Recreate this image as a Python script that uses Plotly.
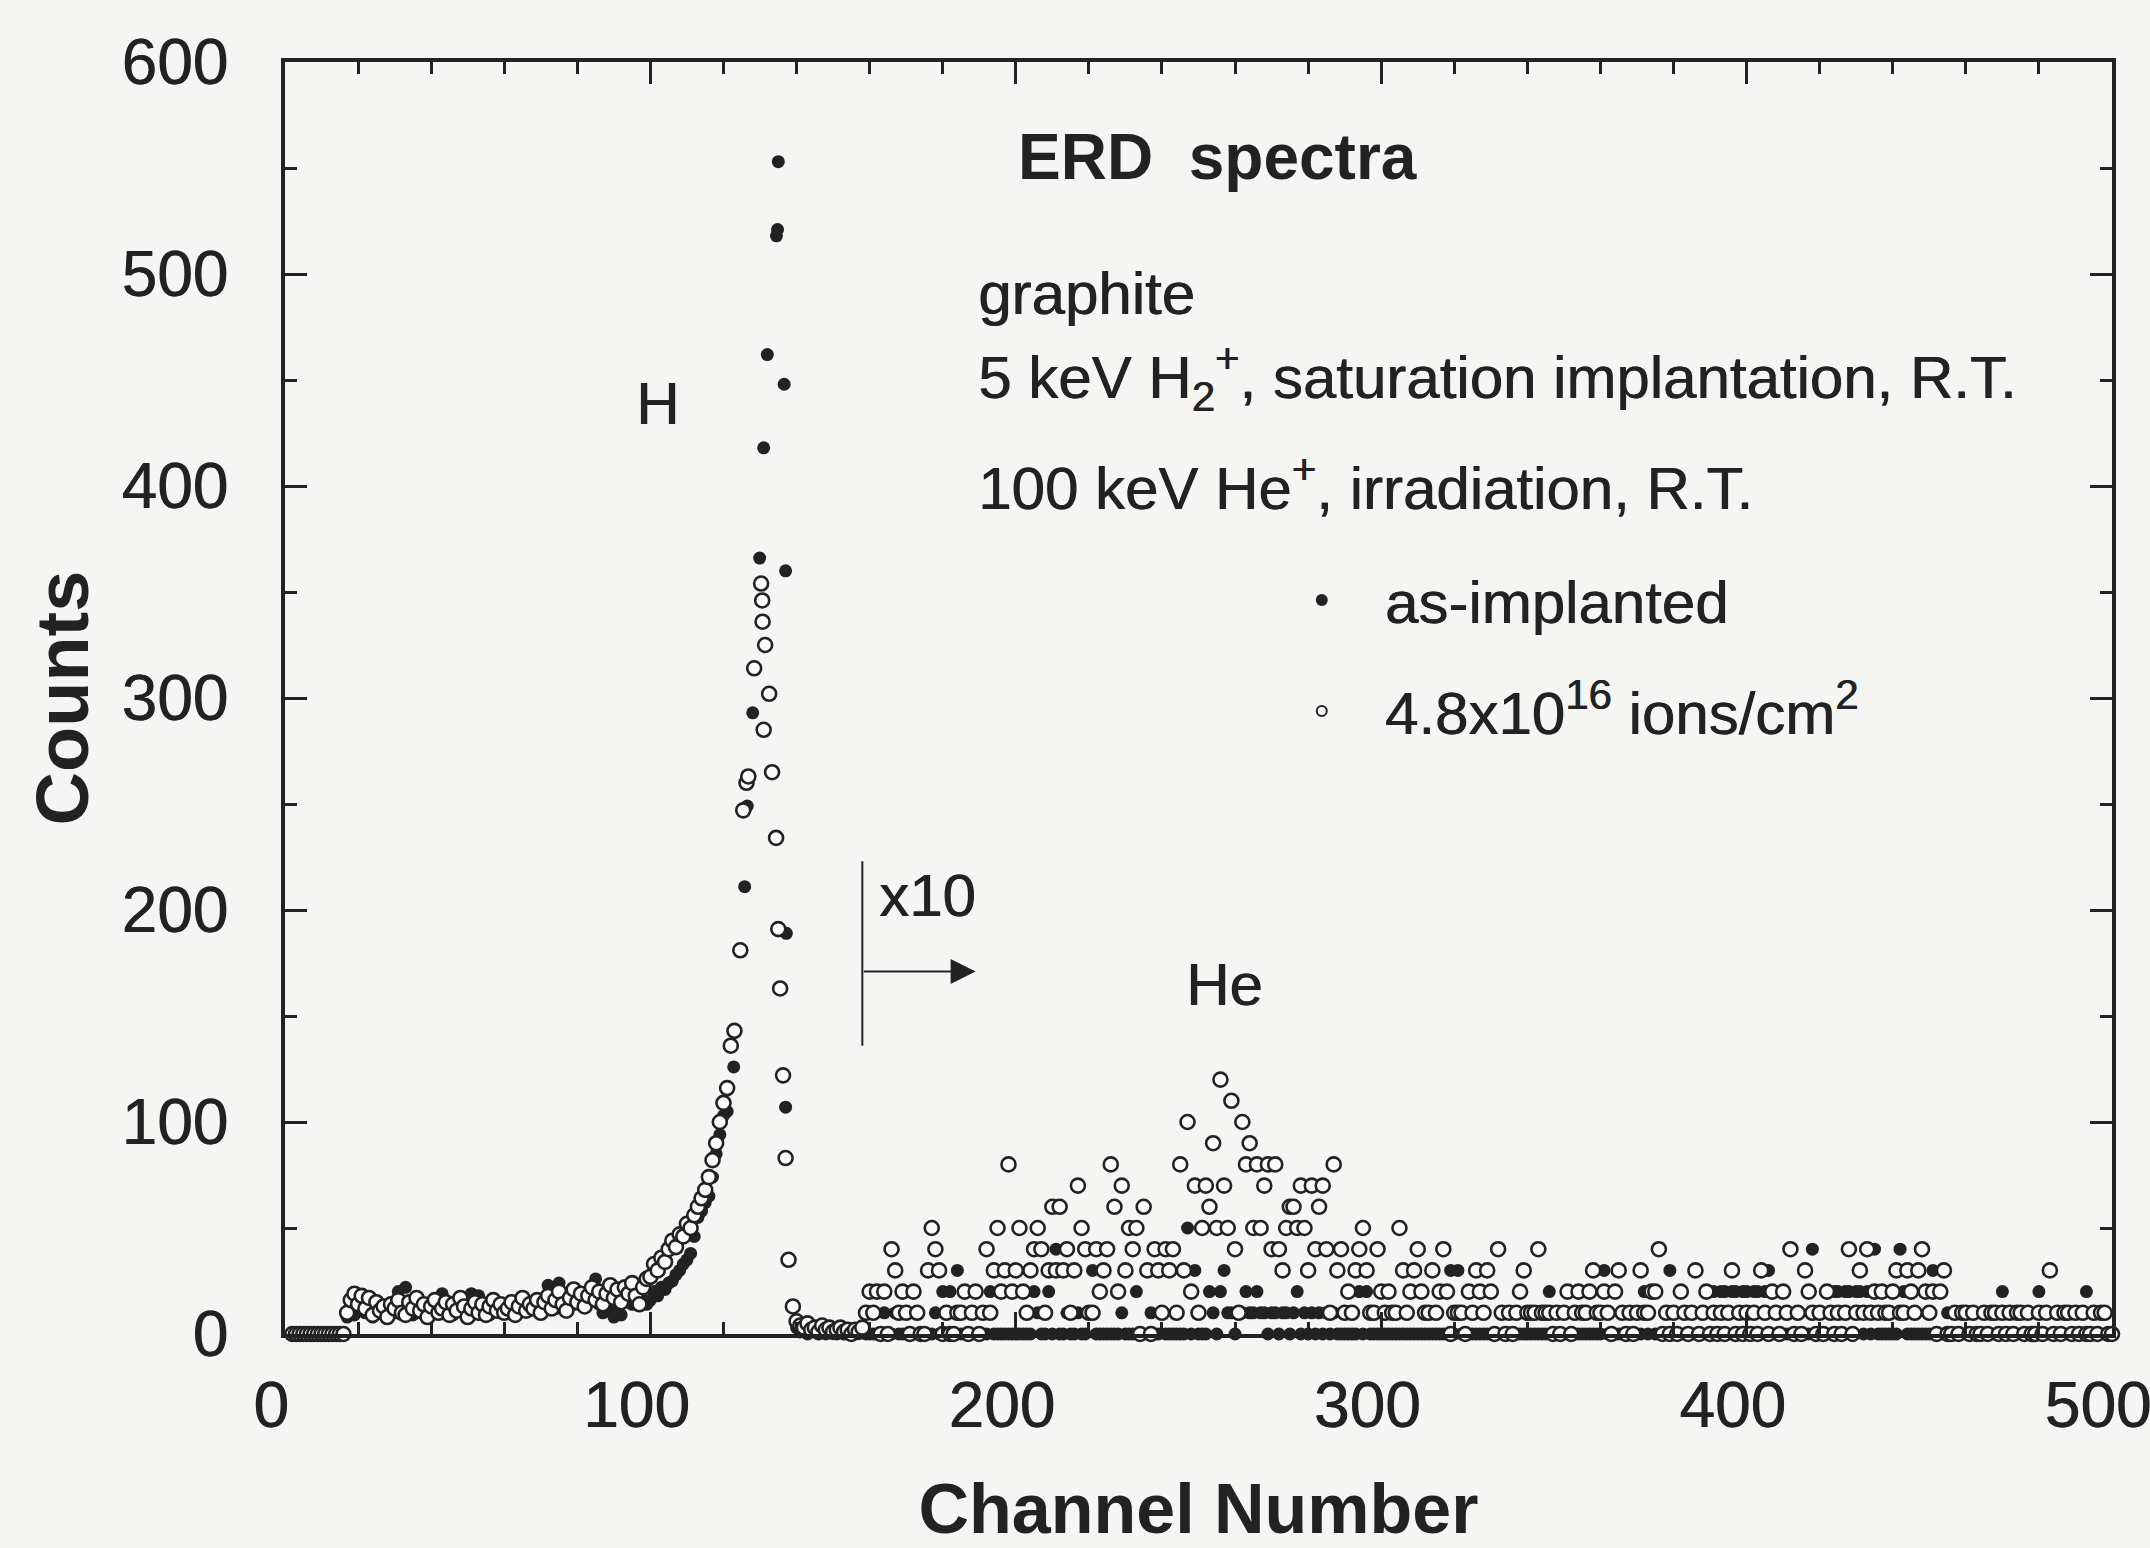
import plotly.graph_objects as go

# ---------------- data ----------------
# H region, 4.8x10^16 ions/cm^2 (open circles)
open_base_ch = list(range(2, 122))
open_base_counts = [
    0, 0, 0, 0, 0, 0, 0, 0, 0, 0, 0, 0, 0, 0, 0,                      # 2-16
    10, 16, 19, 14, 18, 12, 17, 9, 15, 11, 13, 8, 14, 12, 16, 10, 9,   # 17-33
    15, 12, 17, 11, 14, 8, 13, 16, 10, 12, 15, 9, 14, 11, 17, 13, 8,   # 34-50
    12, 15, 10, 14, 9, 13, 16, 11, 14, 10, 12, 15, 9, 13, 17, 11, 14,  # 51-67
    12, 16, 10, 15, 18, 12, 16, 20, 14, 11, 17, 21, 15, 19, 13, 18,    # 68-83
    22, 16, 20, 14, 19, 23, 17, 21, 15, 22, 19, 24, 18, 14, 22, 26,    # 84-99
    27, 33, 30, 36, 34, 40, 44, 41, 47, 46, 52, 50, 56, 60, 64, 68,    # 100-115
    74, 82, 90, 100, 109, 116,                                         # 116-121
]
open_peak_ch = [122.0, 123.0, 124.6, 125.4, 126.3, 126.8, 128.4, 130.3, 130.6, 130.7, 131.4,
                131.0, 132.5, 133.3, 134.4, 135.0, 135.5, 136.3, 137.0, 137.8, 139.0]
open_peak_counts = [136, 143, 181, 247, 260, 263, 314, 354, 346, 336, 325,
                    285, 302, 265, 234, 191, 163, 122, 83, 35, 13]
open_tail_ch = list(range(140, 159))
open_tail_counts = [6, 4, 3, 5, 2, 3, 1, 4, 2, 3, 1, 2, 3, 1, 2, 0, 2, 1, 3]

# H region, as-implanted (filled dots)
filled_base_ch = list(range(2, 122))
filled_base_counts = [
    0, 0, 0, 0, 0, 0, 0, 0, 0, 0, 0, 0, 0, 0, 0,                      # 2-16
    8, 12, 9, 14, 11, 10, 13, 8, 12, 10, 9, 11, 13, 10, 20, 12, 22,    # 17-33
    11, 9, 13, 10, 12, 9, 14, 16, 11, 19, 10, 12, 9, 13, 11, 10, 12,   # 34-50
    19, 11, 18, 10, 12, 9, 13, 11, 10, 12, 14, 11, 10, 13, 12, 11, 14, # 51-67
    12, 13, 15, 12, 23, 14, 12, 24, 15, 13, 16, 14, 17, 15, 13, 16,    # 68-83
    18, 26, 14, 10, 12, 11, 8, 10, 9, 15, 17, 14, 19, 18, 16, 14,      # 84-99
    16, 20, 18, 22, 21, 24, 25, 28, 30, 33, 35, 38, 46, 55, 58, 62,    # 100-115
    65, 74, 85, 94, 103, 105,                                          # 116-121
]
filled_peak_ch = [122.8, 125.8, 126.5, 128.0, 129.9, 131.0, 132.0, 134.5, 134.8, 135.0,
                  136.6, 137.0, 137.2, 137.0]
filled_peak_counts = [126, 211, 249, 293, 366, 418, 462, 518, 521, 553,
                      448, 360, 189, 107]
filled_tail_ch = list(range(140, 159))
filled_tail_counts = [3, 1, 2, 0, 1, 2, 0, 1, 0, 2, 1, 0, 1, 0, 0, 1, 0, 2, 1]

# He region (channels 159-500), raw counts, plotted x10
he_ch = list(range(159, 501))
he_scale = 10
he_open_counts = [
    1, 2, 1, 2, 0, 2, 0, 4, 3, 1,
    2, 1, 0, 2, 1, 0, 0, 3, 5, 4,
    3, 0, 1, 0, 0, 1, 1, 2, 0, 1,
    2, 0, 1, 4, 1, 3, 5, 2, 3, 8,
    2, 3, 5, 2, 1, 3, 4, 5, 4, 1,
    3, 6, 3, 6, 3, 4, 1, 3, 7, 5,
    4, 1, 1, 4, 2, 3, 4, 8, 6, 2,
    7, 3, 5, 4, 5, 0, 6, 3, 0, 4,
    3, 1, 4, 3, 4, 1, 8, 3, 10, 2,
    7, 1, 5, 7, 6, 9, 5, 12, 7, 5,
    11, 4, 1, 10, 8, 9, 5, 8, 5, 7,
    8, 4, 8, 4, 3, 5, 6, 6, 5, 7,
    5, 3, 7, 4, 6, 7, 4, 1, 8, 3,
    4, 1, 2, 1, 3, 4, 5, 3, 1, 1,
    4, 2, 1, 2, 1, 1, 5, 3, 1, 2,
    3, 4, 2, 1, 1, 3, 1, 2, 4, 2,
    0, 1, 1, 1, 0, 2, 1, 3, 2, 1,
    3, 2, 0, 4, 1, 0, 1, 0, 1, 2,
    3, 1, 1, 1, 4, 1, 1, 1, 0, 1,
    0, 1, 2, 0, 1, 2, 1, 1, 2, 3,
    1, 1, 2, 1, 0, 2, 3, 1, 0, 1,
    0, 1, 3, 1, 1, 2, 2, 4, 0, 1,
    0, 1, 0, 2, 1, 0, 1, 3, 0, 1,
    2, 0, 1, 0, 1, 0, 1, 3, 0, 1,
    0, 1, 0, 1, 0, 3, 1, 0, 2, 1,
    0, 2, 1, 4, 0, 1, 0, 3, 2, 1,
    0, 1, 0, 2, 1, 0, 1, 0, 1, 4,
    0, 1, 3, 1, 4, 1, 2, 1, 2, 1,
    1, 2, 3, 1, 1, 3, 2, 1, 3, 4,
    2, 1, 2, 0, 2, 3, 0, 0, 1, 0,
    1, 1, 0, 1, 0, 0, 1, 0, 1, 1,
    0, 1, 0, 1, 0, 1, 1, 0, 1, 0,
    0, 1, 0, 1, 3, 0, 1, 0, 1, 1,
    0, 1, 0, 1, 0, 0, 1, 0, 1, 1,
    0, 0,
]
he_filled_counts = [
    0, 0, 0, 0, 0, 1, 0, 0, 1, 0,
    0, 0, 0, 0, 0, 0, 0, 0, 0, 1,
    0, 2, 0, 2, 1, 3, 0, 0, 0, 0,
    0, 0, 0, 0, 2, 0, 0, 0, 0, 0,
    0, 0, 0, 0, 0, 0, 2, 1, 0, 0,
    2, 0, 4, 0, 0, 1, 0, 0, 1, 0,
    0, 1, 3, 0, 0, 0, 0, 0, 0, 0,
    1, 0, 0, 0, 2, 0, 0, 0, 1, 0,
    0, 1, 0, 0, 0, 0, 0, 0, 5, 0,
    3, 0, 0, 0, 2, 1, 0, 2, 3, 1,
    1, 0, 1, 1, 2, 1, 1, 2, 1, 1,
    0, 1, 1, 0, 1, 1, 0, 1, 2, 0,
    1, 0, 1, 0, 1, 0, 1, 0, 1, 0,
    0, 0, 0, 0, 0, 2, 0, 2, 0, 0,
    0, 0, 0, 0, 0, 0, 0, 0, 0, 0,
    0, 0, 0, 0, 0, 0, 0, 0, 0, 0,
    3, 0, 3, 0, 0, 0, 0, 0, 0, 0,
    0, 0, 0, 0, 0, 0, 0, 0, 0, 0,
    0, 0, 0, 0, 0, 0, 0, 2, 1, 0,
    1, 0, 1, 0, 0, 0, 0, 0, 0, 0,
    0, 0, 3, 0, 0, 0, 0, 0, 0, 0,
    0, 0, 0, 2, 0, 2, 0, 0, 0, 0,
    3, 0, 0, 0, 0, 0, 0, 0, 0, 0,
    0, 0, 2, 1, 2, 2, 0, 2, 2, 0,
    2, 2, 1, 2, 2, 0, 2, 3, 0, 0,
    0, 0, 0, 0, 0, 0, 0, 0, 0, 4,
    0, 0, 0, 0, 0, 2, 2, 0, 2, 2,
    0, 2, 2, 0, 2, 0, 4, 0, 0, 0,
    0, 0, 0, 4, 2, 0, 0, 0, 0, 0,
    0, 0, 3, 0, 0, 0, 1, 0, 0, 0,
    0, 0, 0, 0, 0, 0, 0, 0, 0, 0,
    0, 2, 0, 0, 0, 0, 0, 0, 0, 0,
    0, 2, 0, 0, 0, 0, 0, 0, 0, 0,
    0, 0, 0, 0, 2, 0, 0, 0, 0, 0,
    0, 0,
]

x_ticks = [0, 100, 200, 300, 400, 500]
y_ticks = [0, 100, 200, 300, 400, 500, 600]

series_names = ["as-implanted", "4.8x10<sup>16</sup> ions/cm<sup>2</sup>"]

# ---------------- assemble series ----------------
open_x = open_base_ch + open_peak_ch + open_tail_ch + he_ch
open_y = (open_base_counts + open_peak_counts + open_tail_counts
          + [he_scale * c for c in he_open_counts])
filled_x = filled_base_ch + filled_peak_ch + filled_tail_ch + he_ch
filled_y = (filled_base_counts + filled_peak_counts + filled_tail_counts
            + [he_scale * c for c in he_filled_counts])

INK = "#222222"
BG = "#f5f5f4"
FONT = "Liberation Sans, Arial, Helvetica, sans-serif"
SHADOW = "0.7px 0px 0px #222222"

filled_marker = dict(symbol="circle", color=INK, line=dict(width=0))
open_marker = dict(symbol="circle", color="#fafafa", line=dict(width=2.6, color=INK))

fig = go.Figure()
# data traces (filled first, open drawn on top)
fig.add_trace(go.Scatter(
    x=filled_x, y=filled_y, mode="markers", name=series_names[0],
    showlegend=False, cliponaxis=False,
    marker=dict(size=13, **filled_marker),
))
fig.add_trace(go.Scatter(
    x=open_x, y=open_y, mode="markers", name=series_names[1],
    showlegend=False, cliponaxis=False,
    marker=dict(size=14, **open_marker),
))
# legend entries (small symbols as in the original key)
fig.add_trace(go.Scatter(
    x=[None], y=[None], mode="markers", name=series_names[0],
    legendgroup="a", marker=dict(size=12, **filled_marker),
))
fig.add_trace(go.Scatter(
    x=[None], y=[None], mode="markers", name=series_names[1],
    legendgroup="b", marker=dict(size=10, symbol="circle", color="#fafafa",
                                  line=dict(width=2, color=INK)),
))

axis_common = dict(
    showline=True, linewidth=4, linecolor=INK, mirror="allticks",
    ticks="inside", ticklen=22, tickwidth=3, tickcolor=INK,
    showgrid=False, zeroline=False, automargin=False,
    tickfont=dict(size=64, color=INK, family=FONT, shadow=SHADOW),
)
fig.update_xaxes(
    range=[0, 500], tickmode="array", tickvals=x_ticks,
    minor=dict(dtick=20, ticks="inside", ticklen=12, tickwidth=3, tickcolor=INK),
    ticklabelstandoff=12, ticklabelshift=-14, ticklabeloverflow="allow",
    title=dict(text="Channel Number", font=dict(size=70, color=INK, family=FONT, weight="bold"),
               standoff=68),
    **axis_common,
)
fig.update_yaxes(
    range=[0, 600], tickmode="array", tickvals=y_ticks,
    minor=dict(dtick=50, ticks="inside", ticklen=12, tickwidth=3, tickcolor=INK),
    ticklabelstandoff=40,
    title=dict(text="Counts", font=dict(size=74, color=INK, family=FONT, weight="bold"),
               standoff=10),
    **axis_common,
)

ann_font = dict(size=60, color=INK, family=FONT, shadow=SHADOW)
annotations = [
    dict(x=200, y=555, text="ERD\u00a0 spectra", xanchor="left", yanchor="middle",
         font=dict(size=64, color=INK, family=FONT, weight="bold")),
    dict(x=189, y=491, text="graphite", xanchor="left", yanchor="middle", font=ann_font),
    dict(x=189, y=451, text="5 keV H<sub>2</sub><sup>+</sup>, saturation implantation, R.T.",
         xanchor="left", yanchor="middle", font=ann_font),
    dict(x=189, y=401, text="100 keV He<sup>+</sup>, irradiation, R.T.",
         xanchor="left", yanchor="middle", font=ann_font),
    dict(x=102, y=439, text="H", xanchor="center", yanchor="middle", font=ann_font),
    dict(x=257, y=165, text="He", xanchor="center", yanchor="middle", font=ann_font),
    dict(x=162, y=207, text="x10", xanchor="left", yanchor="middle", font=ann_font),
    dict(x=189, y=171, ax=158, ay=171, xref="x", yref="y", axref="x", ayref="y",
         text="", showarrow=True, arrowhead=2, arrowsize=2.5, arrowwidth=2,
         arrowcolor=INK),
]
for a in annotations:
    a.setdefault("xref", "x")
    a.setdefault("yref", "y")
    a.setdefault("showarrow", False)

fig.update_layout(
    width=2150, height=1548,
    margin=dict(l=285, r=38, t=62, b=214, autoexpand=False),
    paper_bgcolor=BG, plot_bgcolor=BG,
    font=dict(family=FONT, color=INK),
    annotations=annotations,
    shapes=[dict(type="line", xref="x", yref="y", x0=158, x1=158, y0=136, y1=223,
                 line=dict(color=INK, width=2))],
    showlegend=True,
    legend=dict(x=0.533, y=0.5335, xanchor="left", yanchor="middle",
                font=dict(size=60, color=INK, family=FONT, shadow=SHADOW),
                itemwidth=116, tracegroupgap=30, traceorder="grouped",
                bgcolor="rgba(0,0,0,0)", borderwidth=0),
)

fig.write_html("out.html")
